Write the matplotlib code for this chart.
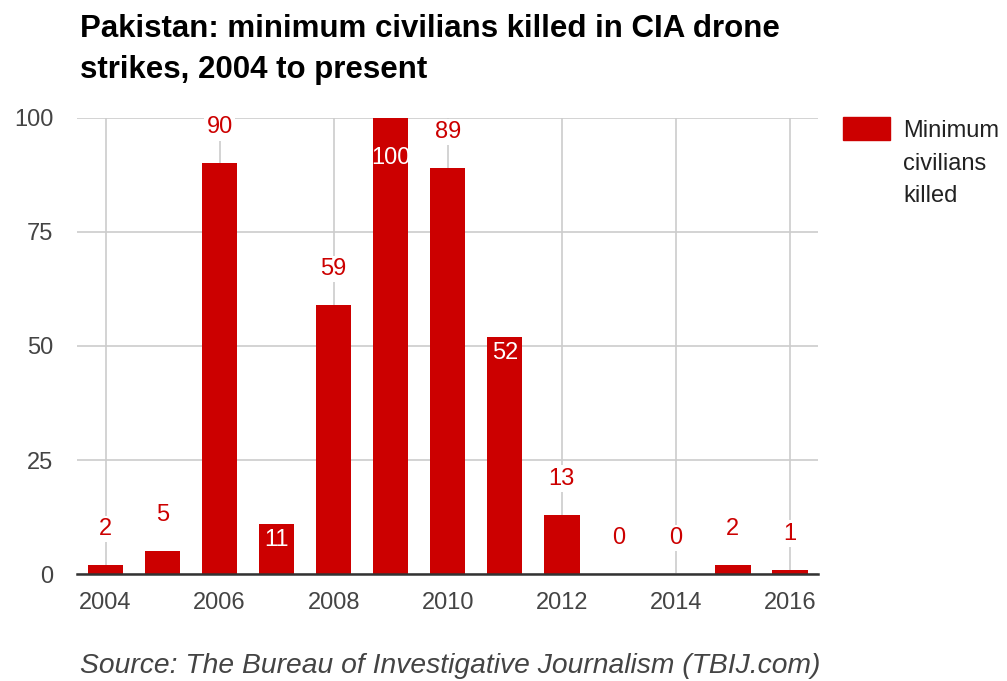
import matplotlib
matplotlib.use("Agg")
import matplotlib.pyplot as plt
from matplotlib.patches import Rectangle

plt.rcParams["font.family"] = ["Liberation Sans", "DejaVu Sans"]

years = [2004, 2005, 2006, 2007, 2008, 2009, 2010, 2011, 2012, 2013, 2014, 2015, 2016]
killed = [2, 5, 90, 11, 59, 100, 89, 52, 13, 0, 0, 2, 1]
# labels that sit inside their bar instead of above it
inside = {2007, 2009, 2011}

RED = "#cc0000"
GRID = "#cccccc"
TEXT = "#444444"

fig = plt.figure(figsize=(10.07, 6.81), dpi=100)
ax = fig.add_axes([0.0765, 0.157, 0.7363, 0.670])

ax.bar(years, killed, width=0.62, color=RED, zorder=3)

ax.set_xlim(2003.5, 2016.5)
ax.set_ylim(0, 100)
ax.set_yticks([0, 25, 50, 75, 100])
ax.set_xticks(range(2004, 2017, 2))
ax.grid(True, color=GRID, linewidth=1.2, zorder=0)
ax.tick_params(length=0, labelsize=17, labelcolor=TEXT, pad=13)
ax.tick_params(axis="y", pad=17)
for side in ("top", "right", "left"):
    ax.spines[side].set_visible(False)
ax.spines["bottom"].set_color("#333333")
ax.spines["bottom"].set_linewidth(1.8)
ax.spines["bottom"].set_zorder(4)

# value labels: 36 px above the bar, or white inside the bar top
for yr, v in zip(years, killed):
    if yr in inside:
        off = -40 if v == 100 else -16
        ax.annotate(str(v), (yr, v), xytext=(0, off), textcoords="offset pixels",
                    ha="center", va="center", color="white", fontsize=17, zorder=5)
    else:
        ax.annotate(str(v), (yr, v), xytext=(0, 36), textcoords="offset pixels",
                    ha="center", va="center", color=RED, fontsize=17, zorder=5,
                    bbox=dict(boxstyle="square,pad=0.1", fc="white", ec="none"))

fig.text(0.079, 0.980, "Pakistan: minimum civilians killed in CIA drone\nstrikes, 2004 to present",
         weight="bold", fontsize=22.5, color="black", va="top", ha="left", linespacing=1.5)

fig.text(0.079, 0.012, "Source: The Bureau of Investigative Journalism (TBIJ.com)",
         style="italic", fontsize=20.3, color=TEXT, ha="left", va="baseline")

# legend key drawn by hand so the swatch lines up with the first text line
fig.add_artist(Rectangle((843 / 1007, 1 - 140 / 681), 47 / 1007, 23 / 681,
                         transform=fig.transFigure, color=RED))
fig.text(903 / 1007, 1 - 120 / 681, "Minimum\ncivilians\nkilled", fontsize=17,
         color="#222222", ha="left", va="top", linespacing=1.62)

fig.savefig("out.png", dpi=100)
